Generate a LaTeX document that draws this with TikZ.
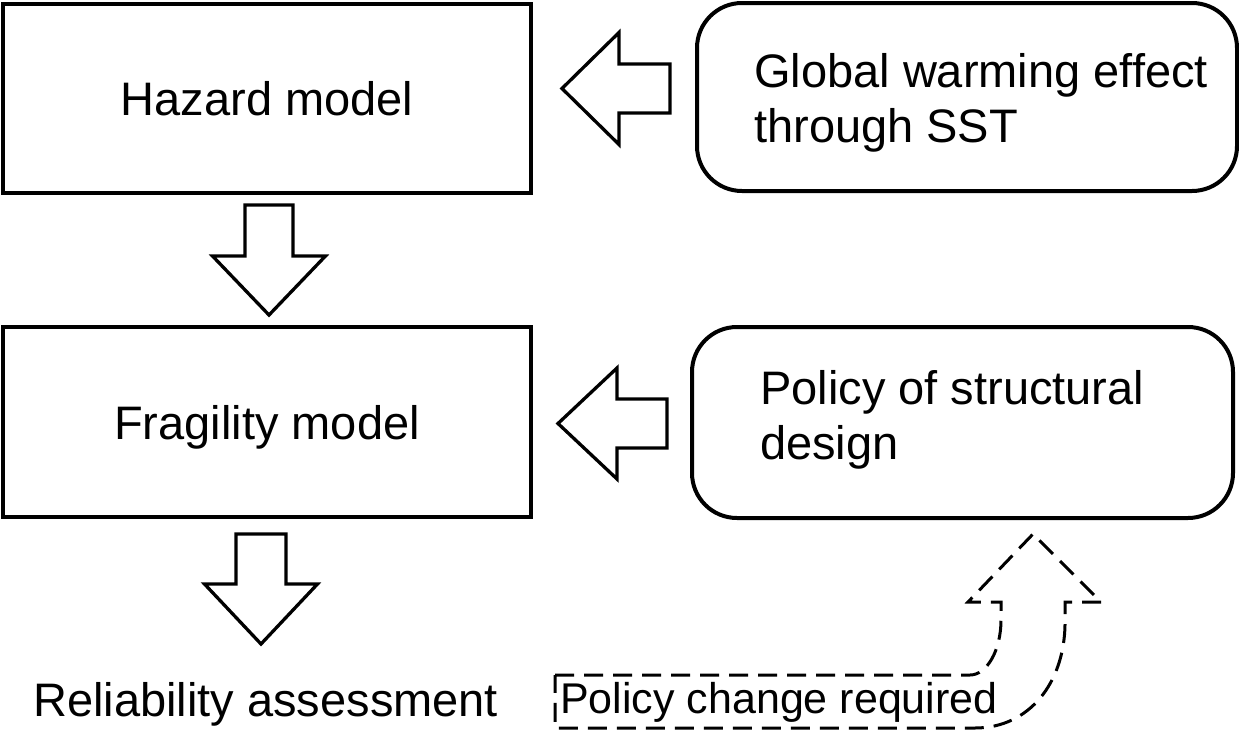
\documentclass[tikz,border=0pt]{standalone}
\usepackage{fontspec}
\setmainfont{Liberation Sans}
\begin{document}
\begin{tikzpicture}[x=1pt,y=-1pt,
  box/.style={draw=black, line width=4pt, inner sep=0pt,
    font=\fontsize{47}{55}\selectfont, text height=34pt, text depth=0pt},
  roundbox/.style={box, rounded corners=45pt},
  label/.style={font=\fontsize{47}{55}\selectfont, inner sep=0pt,
    anchor=base west, align=left},
  fatline/.style={draw=black, line width=3.3pt, line join=miter, fill=white},
  dashline/.style={draw=black, line width=3pt, dash pattern=on 19pt off 10pt,
    line join=miter},
  pics/fatarrow/.style n args={4}{code={%
    % #1 total length, #2 head length, #3 half shaft width, #4 half head width
    \path[fatline] (0,-#3) -- ({#1-#2},-#3) -- ({#1-#2},-#4) -- (#1,0)
      -- ({#1-#2},#4) -- ({#1-#2},#3) -- (0,#3) -- cycle;}}]
\useasboundingbox (0,0) rectangle (1239,731);

% model boxes on the left
\node[box, minimum width=528pt, minimum height=189pt] (hazard) at (267,98.5) {Hazard model};
\node[box, minimum width=528pt, minimum height=190pt] (fragility) at (267,422) {Fragility model};

% influence boxes on the right (base anchor sits on the last text line)
\node[roundbox, minimum width=540pt, minimum height=188pt] (warming) at (967,97) {};
\node[label] (warmingtext) at (754,142) {Global warming effect\\through SST};
\node[roundbox, minimum width=541pt, minimum height=191pt] (policy) at (962.5,422.5) {};
\node[label] (policytext) at (760,459) {Policy of structural\\design};

% result
\node[label] (reliability) at (33,716) {Reliability assessment};
\node[label, font=\fontsize{43}{50}\selectfont] (change) at (560,713) {Policy change required};

% block arrows between the boxes
\coordinate (h2f) at (269,205);
\coordinate (f2r) at (261,534);
\coordinate (w2h) at (670,88.5);
\coordinate (p2f) at (667,423.5);
\pic[rotate=-90] at (h2f) {fatarrow={110}{59}{24}{56.5}};
\pic[rotate=-90] at (f2r) {fatarrow={110}{60}{25}{56.5}};
\pic[rotate=180] at (w2h) {fatarrow={108}{57}{24.5}{56}};
\pic[rotate=180] at (p2f) {fatarrow={109}{59}{24.5}{55.5}};

% dashed frame around the note, bending up into an arrow towards the policy box
\path[dashline] (555,675) -- (970,675)
  .. controls (987,675) and (1001,650) .. (1001,620)
  -- (1001,602) -- (968,602) -- (1033,534) -- (1101,602) -- (1065,602)
  -- (1065,625) .. controls (1064,682) and (1030,728) .. (975,728)
  -- (555,728) -- cycle;
\end{tikzpicture}
\end{document}
